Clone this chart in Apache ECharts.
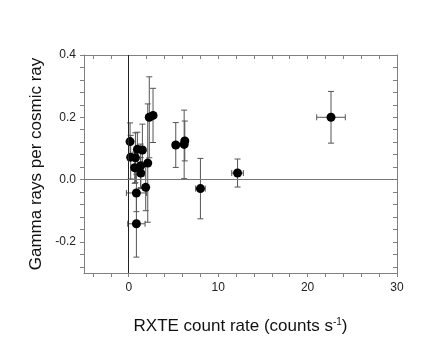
<!DOCTYPE html>
<html>
<head>
<meta charset="utf-8">
<script src="https://cdn.jsdelivr.net/npm/echarts@6/dist/echarts.min.js"></script>
<style>
  html, body { margin: 0; padding: 0; background: #fff; }
  #chart { width: 436px; height: 352px; }
</style>
</head>
<body>
<div id="chart"></div>
<script>
// values
const rateVals  = [0.15, 0.22, 0.75, 0.97, 1.53, 0.67, 1.34, 1.34, 2.13, 2.30, 2.72, 1.90, 0.86, 0.86, 5.26, 6.20, 6.27, 8.02, 12.17, 22.62]
const gammaVals = [0.122, 0.072, 0.070, 0.097, 0.095, 0.038, 0.044, 0.021, 0.053, 0.200, 0.206, -0.025, -0.043, -0.142, 0.111, 0.113, 0.124, -0.029, 0.021, 0.200]
const rateErr   = [0.25, 0.3, 0.3, 0.3, 0.3, 0.3, 0.3, 0.3, 0.3, 0.35, 0.3, 0.3, 1.12, 0.97, 0.35, 0.3, 0.3, 0.54, 0.65, 1.6]
const gammaErr  = [0.06, 0.07, 0.08, 0.055, 0.083, 0.05, 0.07, 0.05, 0.19, 0.13, 0.087, 0.075, 0.06, 0.107, 0.072, 0.11, 0.064, 0.097, 0.045, 0.083]

const xTicks = [-4, -2, 0, 2, 4, 6, 8, 10, 12, 14, 16, 18, 20, 22, 24, 26, 28, 30]
const xLabels = [0, 10, 20, 30]
const yTicks = [-0.28, -0.24, -0.2, -0.16, -0.12, -0.08, -0.04, 0, 0.04, 0.08, 0.12, 0.16, 0.2, 0.24, 0.28, 0.32, 0.36, 0.4]
const yLabels = [-0.2, 0, 0.2, 0.4]

const axisColor = '#808080'
const font = 'Liberation Sans, Arial, sans-serif'

const chart = echarts.init(document.getElementById('chart'))

// 误差棒
const renderErrorBar = (params, api) => {
    const x = api.value(0), y = api.value(1), dx = api.value(2), dy = api.value(3)
    const top = api.coord([x, y + dy])
    const bot = api.coord([x, y - dy])
    const lft = api.coord([x - dx, y])
    const rgt = api.coord([x + dx, y])
    const cap = 3
    const style = { stroke: '#555', lineWidth: 1 }
    return {
        type: 'group',
        children: [
            { type: 'line', shape: { x1: top[0], y1: top[1], x2: bot[0], y2: bot[1] }, style },
            { type: 'line', shape: { x1: top[0] - cap, y1: top[1], x2: top[0] + cap, y2: top[1] }, style },
            { type: 'line', shape: { x1: bot[0] - cap, y1: bot[1], x2: bot[0] + cap, y2: bot[1] }, style },
            { type: 'line', shape: { x1: lft[0], y1: lft[1], x2: rgt[0], y2: rgt[1] }, style },
            { type: 'line', shape: { x1: lft[0], y1: lft[1] - cap, x2: lft[0], y2: lft[1] + cap }, style },
            { type: 'line', shape: { x1: rgt[0], y1: rgt[1] - cap, x2: rgt[0], y2: rgt[1] + cap }, style }
        ]
    }
}

const baseX = {
    type: 'value', min: -5, max: 30,
    axisLine: { show: true, onZero: false, lineStyle: { color: axisColor } },
    splitLine: { show: false }
}
const baseY = {
    type: 'value', min: -0.3, max: 0.4,
    axisLine: { show: true, onZero: false, lineStyle: { color: axisColor } },
    splitLine: { show: false }
}

chart.setOption({
    animation: false,
    grid: { left: 84, right: 39, top: 55, bottom: 79 },
    xAxis: [
        {
            ...baseX, position: 'bottom',
            axisTick: { show: true, inside: false, length: 4, customValues: xTicks, lineStyle: { color: axisColor } },
            axisLabel: { customValues: xLabels, margin: 9, color: '#222', fontSize: 12, fontFamily: font },
            name: 'RXTE count rate (counts s{sup|-1})',
            nameLocation: 'middle',
            nameGap: 44,
            nameTextStyle: {
                fontSize: 17, color: '#111', fontFamily: font,
                rich: { sup: { fontSize: 10, color: '#111', fontFamily: font, padding: [0, 0, 9, 0] } }
            }
        },
        {
            ...baseX, position: 'top',
            axisTick: { show: true, inside: true, length: 4, customValues: xTicks, lineStyle: { color: axisColor } },
            axisLabel: { show: false }
        }
    ],
    yAxis: [
        {
            ...baseY, position: 'left',
            axisTick: { show: true, inside: false, length: 4, customValues: yTicks, lineStyle: { color: axisColor } },
            axisLabel: {
                customValues: yLabels, margin: 8, color: '#222', fontSize: 12, fontFamily: font,
                formatter: (v) => v.toFixed(1)
            },
            name: 'Gamma rays per cosmic ray',
            nameLocation: 'middle',
            nameGap: 36,
            nameTextStyle: { fontSize: 17, color: '#111', fontFamily: font }
        },
        {
            ...baseY, position: 'right',
            axisTick: { show: true, inside: true, length: 4, customValues: yTicks, lineStyle: { color: axisColor } },
            axisLabel: { show: false }
        }
    ],
    series: [
        {
            type: 'custom',
            renderItem: renderErrorBar,
            data: rateVals.map((x, i) => [x, gammaVals[i], rateErr[i], gammaErr[i]]),
            z: 2
        },
        {
            type: 'scatter',
            symbolSize: 9,
            itemStyle: { color: '#000', opacity: 1 },
            data: rateVals.map((x, i) => [x, gammaVals[i]]),
            z: 3,
            markLine: {
                silent: true,
                symbol: 'none',
                label: { show: false },
                data: [
                    { xAxis: 0, lineStyle: { color: '#222', width: 1, type: 'solid' } },
                    { yAxis: 0, lineStyle: { color: '#777', width: 1, type: 'solid' } }
                ]
            }
        }
    ]
})
</script>
</body>
</html>
